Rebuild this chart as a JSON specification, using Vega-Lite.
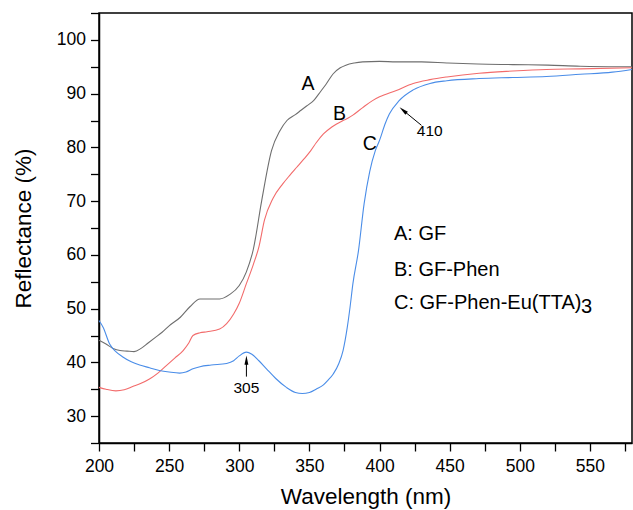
{
  "$schema": "https://vega.github.io/schema/vega-lite/v6.json",
  "width": 533,
  "height": 430,
  "autosize": {"type": "none"},
  "padding": {"left": 99, "top": 13, "right": 1, "bottom": 67},
  "background": "white",
  "config": {
    "view": {"stroke": "#000", "strokeWidth": 1.5},
    "font": "Liberation Sans",
    "axis": {
      "grid": false,
      "domainColor": "#000",
      "domainWidth": 1.5,
      "tickColor": "#000",
      "tickWidth": 1.3,
      "labelColor": "#000",
      "labelFont": "Liberation Sans",
      "labelFontSize": 17.5,
      "titleFont": "Liberation Sans",
      "titleFontSize": 22.5,
      "titleFontWeight": "normal",
      "titleColor": "#000",
      "labelOverlap": false,
      "labelFlush": false
    }
  },
  "datasets": {
    "curves": [
      {"s": "A", "wl": 200, "r": 44.1}, {"s": "A", "wl": 205, "r": 43.4}, {"s": "A", "wl": 210, "r": 42.6}, {"s": "A", "wl": 215, "r": 42.2}, {"s": "A", "wl": 220, "r": 42.1}, {"s": "A", "wl": 225, "r": 42.0}, {"s": "A", "wl": 230, "r": 42.6}, {"s": "A", "wl": 235, "r": 43.6}, {"s": "A", "wl": 240, "r": 44.6}, {"s": "A", "wl": 245, "r": 45.6}, {"s": "A", "wl": 250, "r": 46.8}, {"s": "A", "wl": 258, "r": 48.4}, {"s": "A", "wl": 265, "r": 50.4}, {"s": "A", "wl": 272, "r": 51.8}, {"s": "A", "wl": 280, "r": 51.8}, {"s": "A", "wl": 286, "r": 51.8}, {"s": "A", "wl": 293, "r": 52.6}, {"s": "A", "wl": 300, "r": 54.3}, {"s": "A", "wl": 305, "r": 56.8}, {"s": "A", "wl": 310, "r": 61.0}, {"s": "A", "wl": 316, "r": 70.1}, {"s": "A", "wl": 323, "r": 79.4}, {"s": "A", "wl": 329, "r": 83.1}, {"s": "A", "wl": 334, "r": 85.0}, {"s": "A", "wl": 340, "r": 86.1}, {"s": "A", "wl": 344, "r": 86.9}, {"s": "A", "wl": 348, "r": 87.7}, {"s": "A", "wl": 353, "r": 88.7}, {"s": "A", "wl": 358, "r": 90.4}, {"s": "A", "wl": 362, "r": 91.8}, {"s": "A", "wl": 367, "r": 93.7}, {"s": "A", "wl": 372, "r": 94.8}, {"s": "A", "wl": 376, "r": 95.3}, {"s": "A", "wl": 382, "r": 95.7}, {"s": "A", "wl": 388, "r": 95.9}, {"s": "A", "wl": 400, "r": 96.0}, {"s": "A", "wl": 412, "r": 95.9}, {"s": "A", "wl": 430, "r": 95.9}, {"s": "A", "wl": 448, "r": 95.7}, {"s": "A", "wl": 470, "r": 95.5}, {"s": "A", "wl": 495, "r": 95.4}, {"s": "A", "wl": 520, "r": 95.3}, {"s": "A", "wl": 543, "r": 95.1}, {"s": "A", "wl": 580, "r": 95.0},
      {"s": "B", "wl": 200, "r": 35.35}, {"s": "B", "wl": 205, "r": 35.0}, {"s": "B", "wl": 212, "r": 34.7}, {"s": "B", "wl": 218, "r": 34.9}, {"s": "B", "wl": 224, "r": 35.5}, {"s": "B", "wl": 230, "r": 36.1}, {"s": "B", "wl": 236, "r": 36.9}, {"s": "B", "wl": 242, "r": 38.0}, {"s": "B", "wl": 248, "r": 39.4}, {"s": "B", "wl": 254, "r": 40.8}, {"s": "B", "wl": 260, "r": 42.2}, {"s": "B", "wl": 264, "r": 43.6}, {"s": "B", "wl": 267, "r": 45.0}, {"s": "B", "wl": 272, "r": 45.5}, {"s": "B", "wl": 277, "r": 45.7}, {"s": "B", "wl": 286, "r": 46.2}, {"s": "B", "wl": 291, "r": 47.2}, {"s": "B", "wl": 296, "r": 49.0}, {"s": "B", "wl": 300, "r": 51.0}, {"s": "B", "wl": 305, "r": 54.6}, {"s": "B", "wl": 310, "r": 58.2}, {"s": "B", "wl": 314, "r": 61.5}, {"s": "B", "wl": 318, "r": 66.5}, {"s": "B", "wl": 324, "r": 70.5}, {"s": "B", "wl": 331, "r": 73.2}, {"s": "B", "wl": 336, "r": 74.8}, {"s": "B", "wl": 341, "r": 76.3}, {"s": "B", "wl": 346, "r": 77.8}, {"s": "B", "wl": 351, "r": 79.4}, {"s": "B", "wl": 355, "r": 80.9}, {"s": "B", "wl": 360, "r": 82.5}, {"s": "B", "wl": 366, "r": 83.8}, {"s": "B", "wl": 374, "r": 85.0}, {"s": "B", "wl": 378, "r": 85.5}, {"s": "B", "wl": 381, "r": 86.0}, {"s": "B", "wl": 388, "r": 87.4}, {"s": "B", "wl": 395, "r": 88.7}, {"s": "B", "wl": 400, "r": 89.4}, {"s": "B", "wl": 412, "r": 90.6}, {"s": "B", "wl": 424, "r": 91.9}, {"s": "B", "wl": 436, "r": 92.6}, {"s": "B", "wl": 448, "r": 93.1}, {"s": "B", "wl": 471, "r": 93.8}, {"s": "B", "wl": 495, "r": 94.2}, {"s": "B", "wl": 519, "r": 94.5}, {"s": "B", "wl": 543, "r": 94.6}, {"s": "B", "wl": 580, "r": 94.8},
      {"s": "C", "wl": 200, "r": 47.8}, {"s": "C", "wl": 203, "r": 46.5}, {"s": "C", "wl": 207.6, "r": 43.4}, {"s": "C", "wl": 212, "r": 42.0}, {"s": "C", "wl": 217, "r": 41.0}, {"s": "C", "wl": 223, "r": 40.1}, {"s": "C", "wl": 229, "r": 39.5}, {"s": "C", "wl": 236, "r": 39.0}, {"s": "C", "wl": 243, "r": 38.5}, {"s": "C", "wl": 250, "r": 38.2}, {"s": "C", "wl": 257.5, "r": 38.0}, {"s": "C", "wl": 262, "r": 38.2}, {"s": "C", "wl": 267, "r": 38.8}, {"s": "C", "wl": 272, "r": 39.2}, {"s": "C", "wl": 280, "r": 39.5}, {"s": "C", "wl": 291, "r": 39.8}, {"s": "C", "wl": 296, "r": 40.3}, {"s": "C", "wl": 300, "r": 41.2}, {"s": "C", "wl": 305, "r": 41.9}, {"s": "C", "wl": 309, "r": 41.5}, {"s": "C", "wl": 314, "r": 40.3}, {"s": "C", "wl": 319.4, "r": 38.8}, {"s": "C", "wl": 326, "r": 37.0}, {"s": "C", "wl": 333.6, "r": 35.35}, {"s": "C", "wl": 340, "r": 34.4}, {"s": "C", "wl": 345, "r": 34.2}, {"s": "C", "wl": 350, "r": 34.4}, {"s": "C", "wl": 355, "r": 35.05}, {"s": "C", "wl": 360, "r": 35.8}, {"s": "C", "wl": 363, "r": 36.6}, {"s": "C", "wl": 367, "r": 37.85}, {"s": "C", "wl": 371, "r": 39.8}, {"s": "C", "wl": 374, "r": 42.2}, {"s": "C", "wl": 377, "r": 46.5}, {"s": "C", "wl": 379, "r": 50.3}, {"s": "C", "wl": 381, "r": 54.6}, {"s": "C", "wl": 385, "r": 60.8}, {"s": "C", "wl": 389, "r": 69.5}, {"s": "C", "wl": 393, "r": 75.5}, {"s": "C", "wl": 397, "r": 79.4}, {"s": "C", "wl": 400, "r": 81.3}, {"s": "C", "wl": 404, "r": 84.4}, {"s": "C", "wl": 407, "r": 86.2}, {"s": "C", "wl": 414, "r": 88.7}, {"s": "C", "wl": 424, "r": 90.7}, {"s": "C", "wl": 436, "r": 91.9}, {"s": "C", "wl": 448, "r": 92.4}, {"s": "C", "wl": 471, "r": 92.8}, {"s": "C", "wl": 495, "r": 93.0}, {"s": "C", "wl": 519, "r": 93.2}, {"s": "C", "wl": 543, "r": 93.6}, {"s": "C", "wl": 566, "r": 94.0}, {"s": "C", "wl": 580, "r": 94.5}
    ],
    "letters": [
      {"wl": 349.0, "r": 91.7, "t": "A"},
      {"wl": 371.4, "r": 86.2, "t": "B"},
      {"wl": 393.0, "r": 80.7, "t": "C"}
    ],
    "legend": [
      {"wl": 410.3, "r": 63.9, "t": "A: GF"},
      {"wl": 410.3, "r": 57.2, "t": "B: GF-Phen"},
      {"wl": 410.3, "r": 51.0, "t": "C: GF-Phen-Eu(TTA)"}
    ],
    "sub": [
      {"wl": 543.6, "r": 50.3, "t": "3"}
    ],
    "notes": [
      {"wl": 435.8, "r": 83.0, "t": "410"},
      {"wl": 305.1, "r": 35.26, "t": "305"}
    ],
    "arrows": [
      {"wl": 429.9, "r": 84.1, "wl2": 416.8, "r2": 86.9},
      {"wl": 305.1, "r": 37.35, "wl2": 305.1, "r2": 40.42}
    ],
    "head410": [{"wl": 416.8, "r": 86.9}],
    "head305": [{"wl": 305.1, "r": 40.42}]
  },
  "layer": [
    {
      "data": {"name": "curves"},
      "mark": {"type": "line", "strokeWidth": 1.1, "interpolate": "monotone"},
      "encoding": {
        "x": {
          "field": "wl", "type": "quantitative",
          "scale": {"domain": [200, 580], "nice": false, "zero": false},
          "axis": {
            "title": "Wavelength (nm)",
            "values": [200, 225, 250, 275, 300, 325, 350, 375, 400, 425, 450, 475, 500, 525, 550, 575],
            "tickCount": 100,
            "labelExpr": "datum.value % 50 === 0 ? datum.label : ''",
            "tickSize": 8,
            "encode": {"ticks": {"update": {"y2": {"signal": "datum.value % 50 === 0 ? 8 : 4.5"}}}},
            "labelPadding": 6,
            "titlePadding": 11
          }
        },
        "y": {
          "field": "r", "type": "quantitative",
          "scale": {"domain": [25, 105], "nice": false, "zero": false},
          "axis": {
            "title": "Reflectance (%)",
            "values": [25, 30, 35, 40, 45, 50, 55, 60, 65, 70, 75, 80, 85, 90, 95, 100, 105],
            "tickCount": 100,
            "labelExpr": "datum.value % 10 === 0 ? datum.label : ''",
            "tickSize": 8.5,
            "encode": {"ticks": {"update": {"x2": {"signal": "datum.value % 10 === 0 ? -8.5 : -4.5"}}}},
            "labelPadding": 5,
            "titlePadding": 21
          }
        },
        "color": {
          "field": "s", "type": "nominal",
          "scale": {"domain": ["A", "B", "C"], "range": ["#6e6e6e", "#f26b6b", "#4a8de8"]},
          "legend": null
        }
      }
    },
    {
      "data": {"name": "letters"},
      "mark": {"type": "text", "fontSize": 19.5, "align": "center", "baseline": "middle", "color": "#000", "font": "Liberation Sans"},
      "encoding": {
        "x": {"field": "wl", "type": "quantitative"},
        "y": {"field": "r", "type": "quantitative"},
        "text": {"field": "t"}
      }
    },
    {
      "data": {"name": "legend"},
      "mark": {"type": "text", "fontSize": 20, "align": "left", "baseline": "middle", "color": "#000", "font": "Liberation Sans"},
      "encoding": {
        "x": {"field": "wl", "type": "quantitative"},
        "y": {"field": "r", "type": "quantitative"},
        "text": {"field": "t"}
      }
    },
    {
      "data": {"name": "sub"},
      "mark": {"type": "text", "fontSize": 20, "align": "left", "baseline": "middle", "color": "#000", "font": "Liberation Sans"},
      "encoding": {
        "x": {"field": "wl", "type": "quantitative"},
        "y": {"field": "r", "type": "quantitative"},
        "text": {"field": "t"}
      }
    },
    {
      "data": {"name": "notes"},
      "mark": {"type": "text", "fontSize": 15.5, "align": "center", "baseline": "middle", "color": "#000", "font": "Liberation Sans"},
      "encoding": {
        "x": {"field": "wl", "type": "quantitative"},
        "y": {"field": "r", "type": "quantitative"},
        "text": {"field": "t"}
      }
    },
    {
      "data": {"name": "arrows"},
      "mark": {"type": "rule", "color": "#000", "strokeWidth": 1},
      "encoding": {
        "x": {"field": "wl", "type": "quantitative"},
        "y": {"field": "r", "type": "quantitative"},
        "x2": {"field": "wl2"},
        "y2": {"field": "r2"}
      }
    },
    {
      "data": {"name": "head410"},
      "mark": {"type": "point", "shape": "M0,-1L0.42,1L-0.42,1Z", "angle": 310, "size": 85, "filled": true, "color": "#000", "opacity": 1, "strokeWidth": 0},
      "encoding": {
        "x": {"field": "wl", "type": "quantitative"},
        "y": {"field": "r", "type": "quantitative"}
      }
    },
    {
      "data": {"name": "head305"},
      "mark": {"type": "point", "shape": "M0,-1L0.42,1L-0.42,1Z", "angle": 0, "size": 85, "filled": true, "color": "#000", "opacity": 1, "strokeWidth": 0},
      "encoding": {
        "x": {"field": "wl", "type": "quantitative"},
        "y": {"field": "r", "type": "quantitative"}
      }
    }
  ]
}
